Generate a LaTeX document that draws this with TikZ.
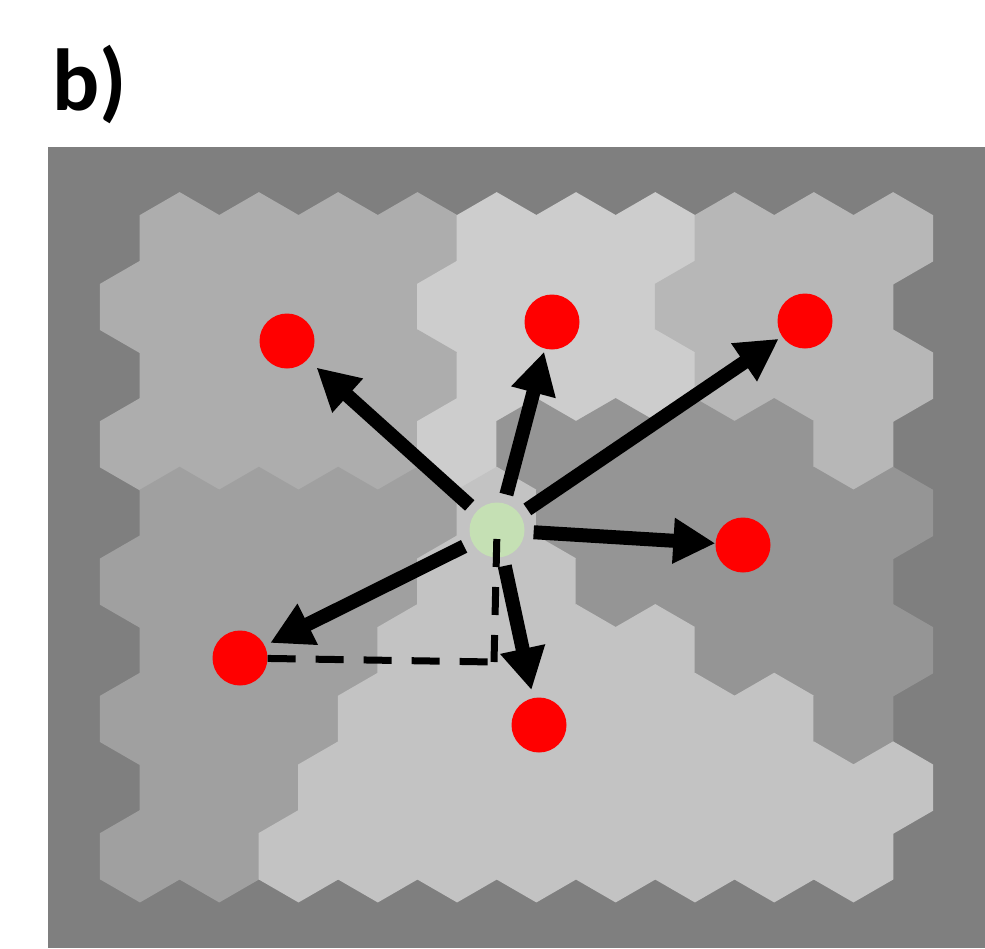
\documentclass[tikz,border=0pt]{standalone}
\usepackage{fontspec}
\setmainfont{Carlito}
\usetikzlibrary{arrows.meta}
\definecolor{bggray}{HTML}{7F7F7F}
\definecolor{hxA}{HTML}{ADADAD}
\definecolor{hxB}{HTML}{CDCDCD}
\definecolor{hxC}{HTML}{B7B7B7}
\definecolor{hxD}{HTML}{A0A0A0}
\definecolor{hxE}{HTML}{959595}
\definecolor{hxF}{HTML}{C3C3C3}
\definecolor{bmu}{HTML}{C5E0B4}
\begin{document}
\begin{tikzpicture}[x=1pt, y=-1pt,
  dot/.style={circle,minimum size=55pt,inner sep=0pt},
  arr/.style={line width=14pt,-{Triangle[length=42pt,width=43pt]},shorten <=9pt},
  dsh/.style={line width=7pt,dash pattern=on 28pt off 20pt}]
\useasboundingbox (0,0) rectangle (985,948);
\fill[white] (0,0) rectangle (985,948);
\fill[bggray] (48,147) rectangle (985,948);
% hexagonal map, one list per row
\foreach \r/\cl in {0/{A,A,A,A,B,B,B,C,C,C},1/{A,A,A,A,B,B,B,C,C,C},
  2/{A,A,A,A,B,B,B,C,C,C},3/{A,A,A,A,B,E,E,E,E,C},4/{D,D,D,D,F,E,E,E,E,E},
  5/{D,D,D,D,F,F,E,E,E,E},6/{D,D,D,F,F,F,F,E,E,E},7/{D,D,D,F,F,F,F,F,F,E},
  8/{D,D,F,F,F,F,F,F,F,F},9/{D,D,F,F,F,F,F,F,F,F}}{
  \foreach \c [count=\i from 0] in \cl {
    \pgfmathsetmacro\hx{179.6+79.28*\i-39.64*mod(\r,2)}
    \pgfmathsetmacro\hy{238.3+68.66*\r}
    \fill[hx\c] (\hx,\hy) ++(0,-46.2) -- ++(40.0,23.1)
      -- ++(0,46.2) -- ++(-40.0,23.1) -- ++(-40.0,-23.1) -- ++(0,-46.2) -- cycle;
  }
}
\node[anchor=base west,inner sep=0pt,font=\bfseries\fontsize{88}{100}\selectfont] (lbl) at (52,110) {b)};
% input and neighbours
\node[dot,fill=bmu] (g) at (497,530) {};
\node[dot,fill=red] (r1) at (287,341) {};
\node[dot,fill=red] (r2) at (552,322) {};
\node[dot,fill=red] (r3) at (805,321) {};
\node[dot,fill=red] (r4) at (743,545) {};
\node[dot,fill=red] (r5) at (240,658) {};
\node[dot,fill=red] (r6) at (539,725) {};
\coordinate (cr) at (494,662);
\draw[arr,shorten >=12pt] (g) -- (r1);
\draw[arr,shorten >=3pt] (g) -- (r2);
\draw[arr,shorten >=4pt] (g) -- (r3);
\draw[arr] (g) -- (r4);
\draw[arr,shorten >=6pt] (g) -- (r5);
\draw[arr,shorten >=8pt] (g) -- (r6);
\draw[dsh,shorten <=9pt] (g.center) -- (cr);
\draw[dsh] (r5) -- (cr);
\end{tikzpicture}
\end{document}
